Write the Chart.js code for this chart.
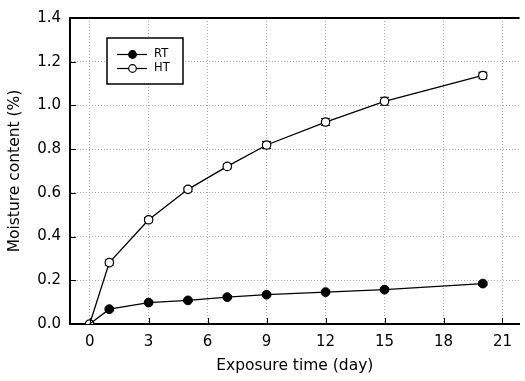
<!DOCTYPE html>
<html>
<head>
<meta charset="utf-8">
<script src="https://cdn.jsdelivr.net/npm/chart.js@4/dist/chart.umd.min.js"></script>
<style>
  html, body { margin: 0; padding: 0; background: #fff; }
  #wrap { width: 525px; height: 381px; }
</style>
</head>
<body>
<div id="wrap"><canvas id="myChart" width="525" height="381"></canvas></div>
<script>
// exposure days and measured moisture content
const days = [0, 1, 3, 5, 7, 9, 12, 15, 20];
const rtValues = [0, 0.068, 0.098, 0.108, 0.123, 0.134, 0.146, 0.157, 0.185];
const htValues = [0, 0.281, 0.477, 0.616, 0.721, 0.819, 0.924, 1.019, 1.137];
const rtErrors = [0, 0.006, 0.005, 0.005, 0.006, 0.005, 0.006, 0.006, 0.008];
const htErrors = [0, 0.012, 0.01, 0.01, 0.011, 0.016, 0.016, 0.018, 0.015];
const xTicks = [0, 3, 6, 9, 12, 15, 18, 21];
const yTicks = [0, 0.2, 0.4, 0.6, 0.8, 1.0, 1.2, 1.4];

const FONT = 'DejaVu Sans';

// error bars, inward tick marks, top frame and boxed legend
const extras = {
    id: 'extras',
    beforeDatasetsDraw(chart) {
        const ctx = chart.ctx;
        const xs = chart.scales.x, ys = chart.scales.y;
        const errs = [rtErrors, htErrors];
        ctx.save();
        ctx.strokeStyle = '#000';
        ctx.lineWidth = 1;
        chart.data.datasets.forEach((ds, i) => {
            ds.data.forEach((p, j) => {
                const e = errs[i][j];
                if (!e) return;
                const px = xs.getPixelForValue(p.x);
                const top = ys.getPixelForValue(p.y + e);
                const bot = ys.getPixelForValue(p.y - e);
                ctx.beginPath();
                ctx.moveTo(px, top); ctx.lineTo(px, bot);
                ctx.moveTo(px - 4.5, top); ctx.lineTo(px + 4.5, top);
                ctx.moveTo(px - 4.5, bot); ctx.lineTo(px + 4.5, bot);
                ctx.stroke();
            });
        });
        ctx.restore();
    },
    afterDraw(chart) {
        const ctx = chart.ctx;
        const a = chart.chartArea;
        const xs = chart.scales.x, ys = chart.scales.y;
        ctx.save();
        ctx.strokeStyle = '#000';
        ctx.lineWidth = 1;
        ctx.beginPath();
        xTicks.forEach(v => {
            const px = Math.round(xs.getPixelForValue(v)) + 0.5;
            ctx.moveTo(px, a.bottom); ctx.lineTo(px, a.bottom - 6);
        });
        yTicks.forEach(v => {
            const py = Math.round(ys.getPixelForValue(v)) + 0.5;
            ctx.moveTo(a.left, py); ctx.lineTo(a.left + 6, py);
        });
        ctx.stroke();
        // top frame line
        ctx.lineWidth = 2;
        ctx.beginPath();
        ctx.moveTo(a.left, a.top); ctx.lineTo(a.right, a.top);
        ctx.stroke();

        // legend box
        const bx = 107, by = 38, bw = 76, bh = 46;
        ctx.fillStyle = '#fff';
        ctx.fillRect(bx, by, bw, bh);
        ctx.lineWidth = 1.5;
        ctx.strokeRect(bx, by, bw, bh);
        ctx.font = '11.5px "' + FONT + '"';
        ctx.textBaseline = 'middle';
        chart.data.datasets.forEach((ds, i) => {
            const y = 54.5 + i * 14;
            ctx.lineWidth = 1.2;
            ctx.strokeStyle = '#000';
            ctx.beginPath();
            ctx.moveTo(117, y); ctx.lineTo(147, y);
            ctx.stroke();
            ctx.beginPath();
            ctx.arc(132.5, y, 3.8, 0, Math.PI * 2);
            ctx.fillStyle = ds.pointBackgroundColor;
            ctx.fill();
            ctx.stroke();
            ctx.fillStyle = '#000';
            ctx.fillText(ds.label, 154, y);
        });
        ctx.restore();
    }
};

const ctx = document.getElementById('myChart').getContext('2d');
const myChart = new Chart(ctx, {
    type: 'line',
    data: {
        datasets: [{
            label: 'RT',
            data: days.map((d, i) => ({ x: d, y: rtValues[i] })),
            borderColor: '#000',
            borderWidth: 1.3,
            pointRadius: days.map((d, i) => i === 0 ? 0 : 4.4),
            pointBackgroundColor: '#000',
            pointBorderColor: '#000',
            pointBorderWidth: 1,
            tension: 0
        }, {
            label: 'HT',
            data: days.map((d, i) => ({ x: d, y: htValues[i] })),
            borderColor: '#000',
            borderWidth: 1.3,
            pointRadius: 4.2,
            pointBackgroundColor: '#fff',
            pointBorderColor: '#000',
            pointBorderWidth: 1.2,
            tension: 0
        }]
    },
    options: {
        responsive: false,
        animation: false,
        layout: { padding: { top: 14, right: 0, left: 0, bottom: 0 } },
        plugins: {
            legend: { display: false },
            tooltip: { enabled: false }
        },
        scales: {
            x: {
                type: 'linear',
                min: -1,
                max: 21.87,
                afterBuildTicks: scale => { scale.ticks = xTicks.map(v => ({ value: v })); },
                afterFit: scale => { scale.height = 57; },
                grid: { color: '#aaa', drawTicks: false, lineWidth: 1 },
                border: { display: true, color: '#000', width: 2, dash: [1, 2] },
                ticks: {
                    autoSkip: false, maxRotation: 0, padding: 9,
                    color: '#000', font: { family: FONT, size: 15 }
                },
                title: {
                    display: true, text: 'Exposure time (day)', color: '#000',
                    font: { family: FONT, size: 15.5 }, padding: { top: 0, bottom: 6 }
                }
            },
            y: {
                min: 0,
                max: 1.4,
                afterBuildTicks: scale => { scale.ticks = yTicks.map(v => ({ value: v })); },
                afterFit: scale => { scale.width = 70; },
                grid: { color: '#aaa', drawTicks: false, lineWidth: 1 },
                border: { display: true, color: '#000', width: 2, dash: [1, 2] },
                ticks: {
                    padding: 9, color: '#000',
                    font: { family: FONT, size: 15 },
                    callback: v => v.toFixed(1)
                },
                title: {
                    display: true, text: 'Moisture content (%)', color: '#000',
                    font: { family: FONT, size: 15.5 }, padding: { top: 6, bottom: 0 }
                }
            }
        }
    },
    plugins: [extras]
});
</script>
</body>
</html>
